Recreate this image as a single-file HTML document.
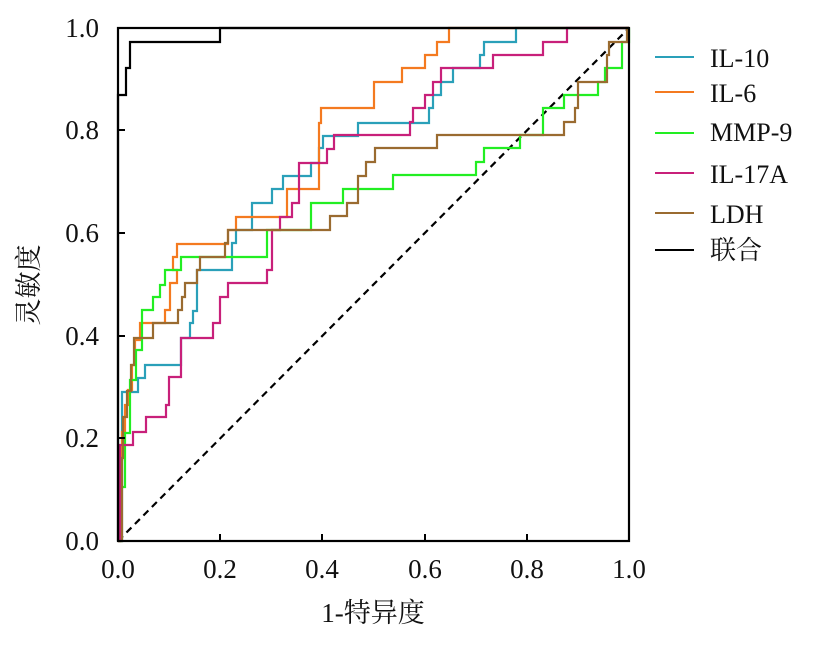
<!DOCTYPE html>
<html><head><meta charset="utf-8"><style>body{margin:0;background:#fff}</style></head><body>
<svg width="827" height="645" xmlns="http://www.w3.org/2000/svg" font-family="Liberation Serif, Noto Serif CJK SC, serif">
<g fill="none" stroke-width="2.2" stroke-linejoin="miter">
<line x1="118" y1="541" x2="629" y2="28" stroke="#000" stroke-dasharray="7,5"/>
<polyline stroke="#2aa0b9" points="118,541 122,541 122,392 138,392 138,378 145,378 145,365 181,365 181,338 190,338 190,323 193,323 193,311 197,311 197,270 232,270 232,243 236,243 236,230 252,230 252,203 272,203 272,189 283,189 283,176 311,176 311,163 319,163 319,148 323,148 323,136 358,136 358,123 429,123 429,108 433,108 433,95 441,95 441,82 453,82 453,68 480,68 480,55 484,55 484,42 516,42 516,28 629,28"/>
<polyline stroke="#f47a20" points="118,541 120,541 120,460 122,460 122,432 125,432 125,405 128,405 128,390 132,390 132,365 135,365 135,340 140,340 140,323 165,323 165,310 170,310 170,283 177,283 177,270 173,270 173,257 177,257 177,244 193,244 193,244 228,244 228,230 236,230 236,217 287,217 287,189 319,189 319,123 321,123 321,108 374,108 374,82 402,82 402,68 425,68 425,55 437,55 437,42 449,42 449,28 629,28"/>
<polyline stroke="#22ee22" points="118,541 121,541 121,487 125,487 125,433 130,433 130,380 136,380 136,350 142,350 142,310 153,310 153,297 160,297 160,285 165,285 165,270 181,270 181,257 267,257 267,230 311,230 311,203 343,203 343,189 393,189 393,175 476,175 476,162 484,162 484,148 520,148 520,135 543,135 543,108 564,108 564,95 578,95 578,95 598,95 598,82 605,82 605,68 622,68 622,42 629,42 629,28"/>
<polyline stroke="#c8207a" points="118,541 120,541 120,445 133,445 133,432 146,432 146,417 166,417 166,405 169,405 169,377 181,377 181,338 213,338 213,323 220,323 220,297 228,297 228,283 267,283 267,270 272,270 272,230 280,230 280,217 292,217 292,203 299,203 299,163 327,163 327,149 334,149 334,135 410,135 410,122 413,122 413,108 425,108 425,95 433,95 433,82 441,82 441,68 493,68 493,55 543,55 543,42 567,42 567,28 629,28"/>
<polyline stroke="#9a6b30" points="118,541 122,541 122,458 123,458 123,417 127,417 127,391 131,391 131,365 134,365 134,338 153,338 153,323 178,323 178,310 182,310 182,297 185,297 185,283 197,283 197,270 200,270 200,257 225,257 225,243 228,243 228,230 330,230 330,216 347,216 347,203 358,203 358,176 366,176 366,162 375,162 375,148 437,148 437,135 564,135 564,122 575,122 575,108 578,108 578,82 607,82 607,55 609,55 609,42 627,42 627,28 629,28"/>
<polyline stroke="#000" points="118,541 118,95 126,95 126,68 130,68 130,42 220,42 220,28 629,28"/>
</g>
<rect x="118" y="28" width="511" height="513" fill="none" stroke="#000" stroke-width="2.2"/>
<g stroke="#000" stroke-width="2">
<line x1="118" y1="438" x2="125" y2="438"/><line x1="118" y1="336" x2="125" y2="336"/><line x1="118" y1="233" x2="125" y2="233"/><line x1="118" y1="130" x2="125" y2="130"/>
<line x1="220" y1="541" x2="220" y2="534"/><line x1="322" y1="541" x2="322" y2="534"/><line x1="425" y1="541" x2="425" y2="534"/><line x1="527" y1="541" x2="527" y2="534"/>
</g>
<g font-size="27" fill="#111" text-anchor="end">
<text x="99" y="550">0.0</text><text x="99" y="447">0.2</text><text x="99" y="345">0.4</text><text x="99" y="242">0.6</text><text x="99" y="139">0.8</text><text x="99" y="37">1.0</text>
</g>
<g font-size="27" fill="#111" text-anchor="middle">
<text x="118" y="578">0.0</text><text x="220" y="578">0.2</text><text x="322" y="578">0.4</text><text x="425" y="578">0.6</text><text x="527" y="578">0.8</text><text x="629" y="578">1.0</text>
<text x="373" y="622">1-特异度</text>
<text transform="translate(38,285) rotate(-90)">灵敏度</text>
</g>
<g stroke-width="2">
<line x1="655" y1="57" x2="694" y2="57" stroke="#2aa0b9"/>
<line x1="655" y1="92" x2="694" y2="92" stroke="#f47a20"/>
<line x1="655" y1="133" x2="694" y2="133" stroke="#22ee22"/>
<line x1="655" y1="173" x2="694" y2="173" stroke="#c8207a"/>
<line x1="655" y1="213" x2="694" y2="213" stroke="#9a6b30"/>
<line x1="655" y1="250" x2="694" y2="250" stroke="#000"/>
</g>
<g font-size="26" fill="#111">
<text x="710" y="67">IL-10</text><text x="710" y="102">IL-6</text><text x="710" y="141">MMP-9</text><text x="710" y="183">IL-17A</text><text x="710" y="223">LDH</text><text x="710" y="259">联合</text>
</g>
</svg>
</body></html>
